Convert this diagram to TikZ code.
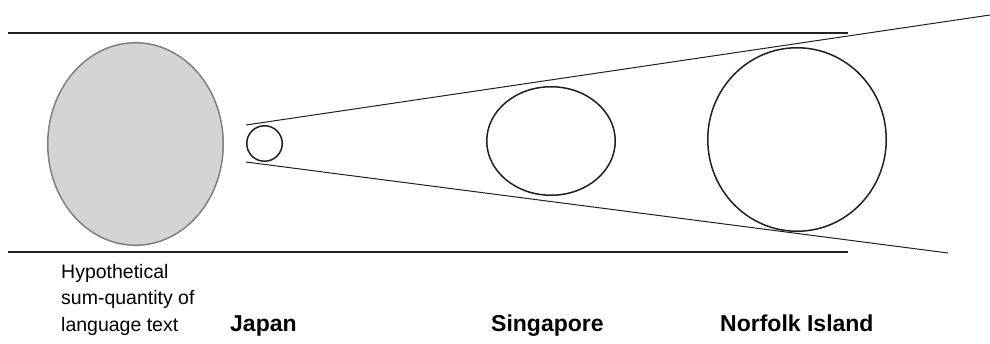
\documentclass[tikz,border=0pt]{standalone}
\usepackage{fontspec}
\setmainfont{Liberation Sans}
\usetikzlibrary{shapes.geometric}
\definecolor{SumGrey}{HTML}{D4D4D6}
\definecolor{SumEdge}{HTML}{808080}
\definecolor{InkDark}{HTML}{231F20}

\begin{document}
\begin{tikzpicture}[x=1pt,y=-1pt,
    corpus/.style={ellipse,draw=InkDark,line width=1.5pt,inner sep=0pt},
    band/.style={InkDark,line width=2pt},
    ray/.style={InkDark,line width=1pt},
    country/.style={anchor=base west,inner sep=0pt,
      font=\bfseries\fontsize{23}{27}\selectfont}]
  \useasboundingbox (0,0) rectangle (990,343);

  % upper and lower limits
  \coordinate (bandTL) at (8,33);
  \coordinate (bandTR) at (848,33);
  \coordinate (bandBL) at (8,252);
  \coordinate (bandBR) at (848,252);
  \draw[band] (bandTL) -- (bandTR);
  \draw[band] (bandBL) -- (bandBR);

  % the whole of language text
  \node[corpus,draw=SumEdge,fill=SumGrey,
    minimum width=175.5pt,minimum height=202.5pt] (sum) at (135.5,144) {};

  % country corpora
  \node[corpus,minimum width=35.5pt,minimum height=35.5pt] (japan) at (264.5,143.5) {};
  \node[corpus,minimum width=128.5pt,minimum height=108.5pt] (singapore) at (551,141) {};
  \node[corpus,minimum width=178.5pt,minimum height=183.5pt] (norfolk) at (797,139.5) {};

  % widening cone
  \coordinate (rayUL) at (246,125);
  \coordinate (rayUR) at (990,15);
  \coordinate (rayLL) at (246,162);
  \coordinate (rayLR) at (948,253);
  \draw[ray] (rayUL) -- (rayUR);
  \draw[ray] (rayLL) -- (rayLR);

  % labels
  \node[anchor=north west,align=left,inner sep=0pt,
    font=\fontsize{19.5}{26.5}\selectfont]
    (sumlabel) at (61,264) {Hypothetical\\sum-quantity of\\language text};
  \node[country] (japanlabel) at (230,331) {Japan};
  \node[country] (singaporelabel) at (491,331) {Singapore};
  \node[country] (norfolklabel) at (720,331) {Norfolk Island};
\end{tikzpicture}
\end{document}
